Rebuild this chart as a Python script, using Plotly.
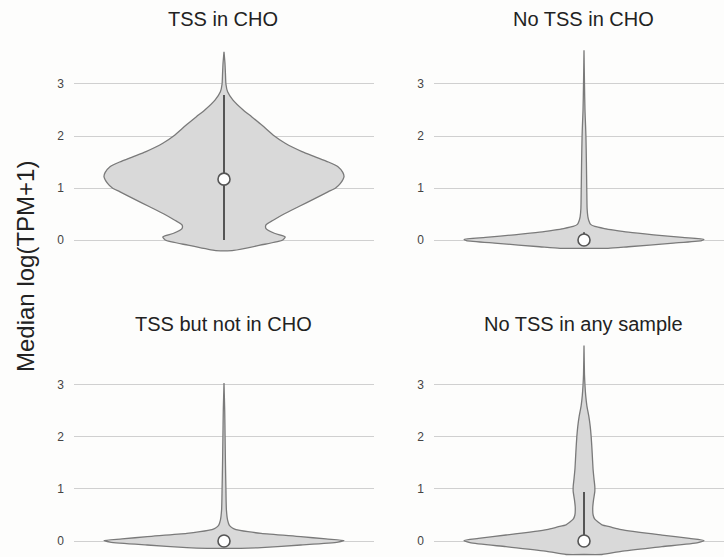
import plotly.graph_objects as go

W, H = 724, 557

# Panel titles (row-major order)
panel_titles = ["TSS in CHO", "No TSS in CHO", "TSS but not in CHO", "No TSS in any sample"]

# Violin outlines: value level -> relative half-width (1 = widest part)
tss_cho_y = [3.62, 3.40, 3.20, 3.00, 2.85, 2.69, 2.50, 2.37, 2.20, 2.00, 1.86, 1.70, 1.60,
             1.50, 1.41, 1.30, 1.22, 1.09, 1.00, 0.93, 0.80, 0.64, 0.50, 0.38, 0.29, 0.22,
             0.13, 0.06, 0.00, -0.10, -0.20, -0.21]
tss_cho_w = [0.0, 0.008, 0.012, 0.016, 0.03, 0.075, 0.16, 0.23, 0.32, 0.42, 0.51, 0.65, 0.76,
             0.87, 0.95, 0.99, 1.00, 0.97, 0.93, 0.87, 0.76, 0.62, 0.50, 0.41, 0.35, 0.35,
             0.42, 0.51, 0.49, 0.30, 0.08, 0.0]

no_tss_cho_y = [3.65, 3.00, 2.50, 2.20, 2.00, 1.50, 1.00, 0.60, 0.45, 0.36, 0.30, 0.26, 0.22,
                0.19, 0.15, 0.10, 0.05, 0.013, -0.013, -0.064, -0.13, -0.16, -0.16]
no_tss_cho_w = [0.0, 0.004, 0.008, 0.013, 0.016, 0.02, 0.023, 0.026, 0.032, 0.042, 0.055, 0.09,
                0.17, 0.25, 0.37, 0.58, 0.82, 1.0, 0.98, 0.72, 0.37, 0.2, 0.0]

tss_not_cho_y = [3.04, 2.50, 2.00, 1.50, 1.00, 0.60, 0.40, 0.30, 0.25, 0.22, 0.18, 0.147, 0.083,
                 0.04, 0.01, -0.02, -0.077, -0.128, -0.14, -0.14]
tss_not_cho_w = [0.0, 0.006, 0.009, 0.012, 0.016, 0.02, 0.03, 0.045, 0.07, 0.1, 0.2, 0.31, 0.64,
                 0.85, 1.0, 0.95, 0.64, 0.31, 0.14, 0.0]

no_tss_any_y = [3.76, 3.20, 3.00, 2.80, 2.60, 2.40, 2.20, 2.00, 1.70, 1.40, 1.20, 1.05, 0.95,
                0.80, 0.65, 0.50, 0.42, 0.36, 0.31, 0.27, 0.22, 0.115, 0.05, 0.01, -0.03,
                -0.11, -0.20, -0.26, -0.26]
no_tss_any_w = [0.0, 0.004, 0.008, 0.014, 0.024, 0.04, 0.052, 0.06, 0.068, 0.075, 0.083, 0.09,
                0.09, 0.08, 0.073, 0.076, 0.09, 0.12, 0.15, 0.22, 0.31, 0.65, 0.88, 1.0, 0.95,
                0.65, 0.31, 0.15, 0.0]

# Median and whisker range per panel
medians = [1.17, 0.0, 0.0, 0.0]
whisker_low = [0.0, 0.0, 0.0, 0.0]
whisker_high = [2.79, 0.15, 0.03, 0.94]

y_ticks = [0, 1, 2, 3]

profiles = [(tss_cho_y, tss_cho_w), (no_tss_cho_y, no_tss_cho_w),
            (tss_not_cho_y, tss_not_cho_w), (no_tss_any_y, no_tss_any_w)]

FILL = "#d9d9d9"
EDGE = "#7a7a7a"
BG = "#fdfdfc"
GRID = "#d0d0d0"
FONT = "Liberation Sans, Arial"

# panel geometry in pixels: (left, right, top, bottom), violin centre x, y value at top/bottom
panels = [
    dict(x0=74, x1=374, cx=224, y0=40, y1=256, v_top=3.846, v_bot=-0.3077),
    dict(x0=434, x1=724, cx=584, y0=40, y1=256, v_top=3.846, v_bot=-0.3077),
    dict(x0=74, x1=374, cx=224, y0=340, y1=557, v_top=3.865, v_bot=-0.3077),
    dict(x0=434, x1=724, cx=584, y0=340, y1=557, v_top=3.865, v_bot=-0.3077),
]
HALF_PX = 120.0  # pixel half-width of the widest part

fig = go.Figure()
layout = dict(width=W, height=H, margin=dict(l=0, r=0, t=0, b=0),
              paper_bgcolor=BG, plot_bgcolor=BG, showlegend=False)

annotations = []
for i, (p, (ys, ws)) in enumerate(zip(panels, profiles)):
    k = "" if i == 0 else str(i + 1)
    xa, ya = "x" + k, "y" + k
    # x in units of the widest half-width
    xmin = -(p["cx"] - p["x0"]) / HALF_PX
    xmax = (p["x1"] - p["cx"]) / HALF_PX
    layout["xaxis" + k] = dict(domain=[p["x0"] / W, p["x1"] / W], range=[xmin, xmax],
                               showgrid=False, zeroline=False, showticklabels=False,
                               showline=False, anchor=ya, fixedrange=True)
    layout["yaxis" + k] = dict(domain=[1 - p["y1"] / H, 1 - p["y0"] / H],
                               range=[p["v_bot"], p["v_top"]], tickvals=y_ticks,
                               ticktext=[str(t) for t in y_ticks],
                               showgrid=True, gridcolor=GRID, gridwidth=1, zeroline=False,
                               showline=False, ticks="", ticklabelstandoff=9,
                               tickfont=dict(family=FONT, size=12, color="#444444"),
                               anchor=xa, fixedrange=True)

    xs = list(ws) + [-w for w in reversed(ws)] + [ws[0]]
    yy = list(ys) + list(reversed(ys)) + [ys[0]]
    fig.add_trace(go.Scatter(x=xs, y=yy, mode="lines", fill="toself", fillcolor=FILL,
                             line=dict(color=EDGE, width=1.3, shape="spline", smoothing=0.6),
                             xaxis=xa, yaxis=ya, hoverinfo="skip"))
    fig.add_trace(go.Scatter(x=[0, 0], y=[whisker_low[i], whisker_high[i]], mode="lines",
                             line=dict(color="#555555", width=2), xaxis=xa, yaxis=ya,
                             hoverinfo="skip"))
    fig.add_trace(go.Scatter(x=[0], y=[medians[i]], mode="markers",
                             marker=dict(size=12, color="white",
                                         line=dict(color="#555555", width=1.6)),
                             xaxis=xa, yaxis=ya, hoverinfo="skip"))

    title_y = 19 if i < 2 else 324
    annotations.append(dict(text=panel_titles[i], x=(p["cx"] - 1) / W, y=1 - title_y / H,
                            xref="paper", yref="paper", xanchor="center", yanchor="middle",
                            showarrow=False,
                            font=dict(family=FONT, size=20, color="#222222")))

annotations.append(dict(text="Median log(TPM+1)", x=25 / W, y=1 - 267 / H,
                        xref="paper", yref="paper", xanchor="center", yanchor="middle",
                        textangle=-90, showarrow=False,
                        font=dict(family=FONT, size=24, color="#222222")))
layout["annotations"] = annotations
fig.update_layout(**layout)

fig.write_html("out.html")
